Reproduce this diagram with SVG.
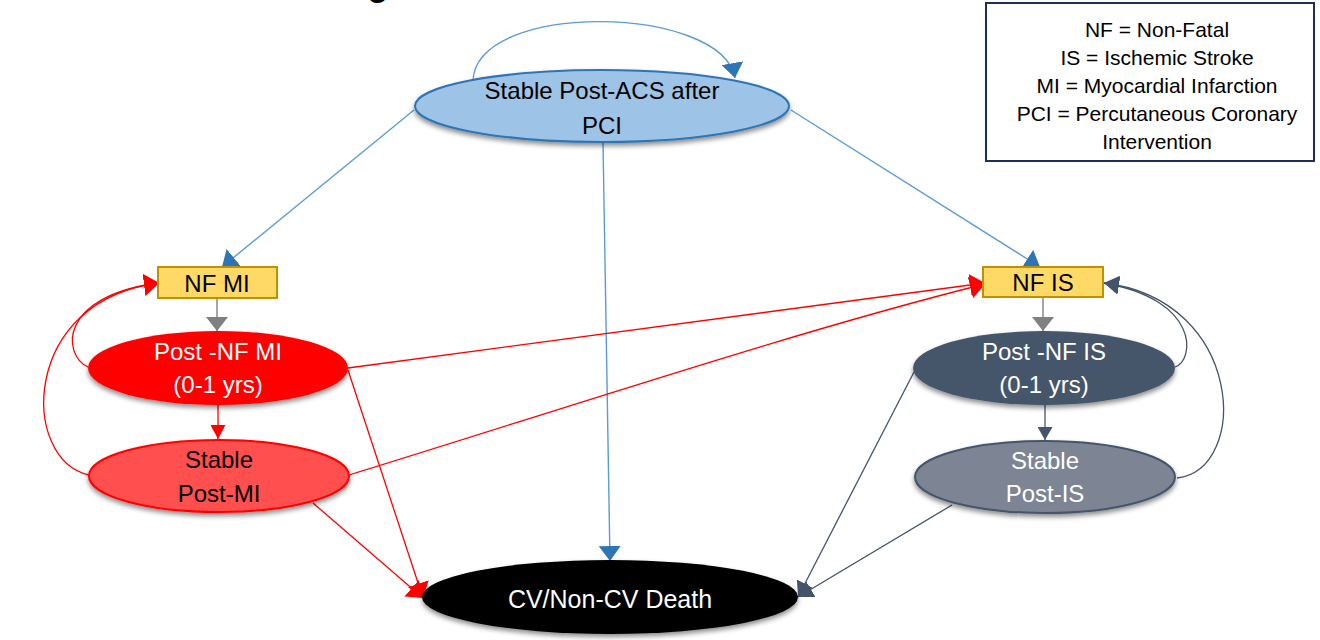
<svg xmlns="http://www.w3.org/2000/svg" width="1320" height="640" viewBox="0 0 1320 640">
<style>
text{font-family:"Liberation Sans",Arial,sans-serif;text-anchor:middle}
.t24{font-size:24px}
.leg{font-size:21px;fill:#000}
.w{fill:#fff}
.k{fill:#000}
.bl{stroke:#5B9BD5;stroke-width:1.4;fill:none}
.rd{stroke:#FF0000;stroke-width:1.3;fill:none}
.dk{stroke:#44546A;stroke-width:1.3;fill:none}
.gr{stroke:#808080;stroke-width:1.4;fill:none}
.box{fill:#FFD966;stroke:#BF9000;stroke-width:2}
</style>
<defs>
<filter id="sh" x="-10%" y="-20%" width="120%" height="150%">
<feDropShadow dx="0" dy="3" stdDeviation="2.5" flood-color="#000" flood-opacity="0.45"/>
</filter>
<marker id="aBlue" markerUnits="userSpaceOnUse" viewBox="0 0 15 22" refX="15" refY="11" markerWidth="15" markerHeight="22" orient="auto"><path d="M0,0 L15,11 L0,22 z" fill="#2E75B6"/></marker>
<marker id="aGray" markerUnits="userSpaceOnUse" viewBox="0 0 14 22" refX="14" refY="11" markerWidth="14" markerHeight="22" orient="auto"><path d="M0,0 L14,11 L0,22 z" fill="#808080"/></marker>
<marker id="aRed" markerUnits="userSpaceOnUse" viewBox="0 0 15 22" refX="15" refY="11" markerWidth="15" markerHeight="22" orient="auto"><path d="M0,0 L15,11 L0,22 z" fill="#FF0000"/></marker>
<marker id="aRedS" markerUnits="userSpaceOnUse" viewBox="0 0 14 15" refX="14" refY="7.5" markerWidth="14" markerHeight="15" orient="auto"><path d="M0,0 L14,7.5 L0,15 z" fill="#FF0000"/></marker>
<marker id="aDk" markerUnits="userSpaceOnUse" viewBox="0 0 15 18" refX="15" refY="9" markerWidth="15" markerHeight="18" orient="auto"><path d="M0,0 L15,9 L0,18 z" fill="#44546A"/></marker>
<marker id="aDkS" markerUnits="userSpaceOnUse" viewBox="0 0 13 15" refX="13" refY="7.5" markerWidth="13" markerHeight="15" orient="auto"><path d="M0,0 L13,7.5 L0,15 z" fill="#44546A"/></marker>
</defs>
<rect width="1320" height="640" fill="#fff"/>
<text x="378" y="-4" style="font-size:34px;font-weight:bold" class="k">g</text>

<g id="connectors">
<path class="bl" d="M473,80 C478,0 722,5 735,78" marker-end="url(#aBlue)"/>
<path class="bl" d="M414,110 L222,267" marker-end="url(#aBlue)"/>
<path class="bl" d="M791,110 L1040,267" marker-end="url(#aBlue)"/>
<path class="bl" d="M603,142 L610,561" marker-end="url(#aBlue)"/>
<path class="gr" d="M217,298 L217,331" marker-end="url(#aGray)"/>
<path class="gr" d="M1043,297 L1043,331" marker-end="url(#aGray)"/>
<path class="rd" d="M218,405 L218,439" marker-end="url(#aRedS)"/>
<path class="dk" d="M1045,405 L1045,440" marker-end="url(#aDkS)"/>
<path class="rd" d="M88,367 C62,355 58,296 159,283" marker-end="url(#aRed)"/>
<path class="rd" d="M89,475 C20,460 20,300 159,283" marker-end="url(#aRed)"/>
<path class="rd" d="M348,368 L985,283" marker-end="url(#aRed)"/>
<path class="rd" d="M349,475 C560,410 800,330 985,284" marker-end="url(#aRed)"/>
<path class="rd" d="M348,370 L423,598" marker-end="url(#aRed)"/>
<path class="rd" d="M313,503 L423,598" marker-end="url(#aRed)"/>
<path class="dk" d="M1175,367 C1195,360 1200,300 1104,283" marker-end="url(#aDk)"/>
<path class="dk" d="M1177,478 C1250,470 1245,300 1104,283" marker-end="url(#aDk)"/>
<path class="dk" d="M914,372 L798,597" marker-end="url(#aDk)"/>
<path class="dk" d="M952,505 L798,597" marker-end="url(#aDk)"/>
</g>

<g id="node-top">
<ellipse cx="602" cy="106" rx="187" ry="36" fill="#9DC3E6" stroke="#2E75B6" stroke-width="2" filter="url(#sh)"/>
<text x="602" y="99" class="t24 k">Stable Post-ACS after</text>
<text x="602" y="134" class="t24 k">PCI</text>
</g>

<g id="node-nfmi">
<rect x="158" y="267" width="119" height="31" class="box"/>
<text x="217" y="292" class="t24 k">NF MI</text>
</g>

<g id="node-postnfmi">
<ellipse cx="218" cy="368" rx="130" ry="37" fill="#FF0000" filter="url(#sh)"/>
<text x="218" y="360" class="t24 w">Post -NF MI</text>
<text x="218" y="393" class="t24 w">(0-1 yrs)</text>
</g>

<g id="node-stablemi">
<ellipse cx="219" cy="476" rx="130" ry="36" fill="#FF5050" stroke="#FF0000" stroke-width="2" filter="url(#sh)"/>
<text x="219" y="468" class="t24 k">Stable</text>
<text x="219" y="502" class="t24 k">Post-MI</text>
</g>

<g id="node-nfis">
<rect x="983" y="267" width="120" height="30" class="box"/>
<text x="1043" y="291" class="t24 k">NF IS</text>
</g>

<g id="node-postnfis">
<ellipse cx="1044" cy="368" rx="131" ry="37" fill="#44546A" filter="url(#sh)"/>
<text x="1044" y="360" class="t24 w">Post -NF IS</text>
<text x="1044" y="393" class="t24 w">(0-1 yrs)</text>
</g>

<g id="node-stableis">
<ellipse cx="1045" cy="477" rx="130" ry="36" fill="#7D8594" stroke="#44546A" stroke-width="2" filter="url(#sh)"/>
<text x="1045" y="469" class="t24 w">Stable</text>
<text x="1045" y="502" class="t24 w">Post-IS</text>
</g>

<g id="node-death">
<ellipse cx="610" cy="597" rx="188" ry="37" fill="#000" filter="url(#sh)"/>
<text x="610" y="608" class="w" style="font-size:25px">CV/Non-CV Death</text>
</g>

<g id="legend">
<rect x="986" y="3" width="328" height="158" fill="#fff" stroke="#1F2D5A" stroke-width="2"/>
<text x="1157" y="37" class="leg">NF = Non-Fatal</text>
<text x="1157" y="65" class="leg">IS = Ischemic Stroke</text>
<text x="1157" y="93" class="leg">MI = Myocardial Infarction</text>
<text x="1157" y="121" class="leg">PCI = Percutaneous Coronary</text>
<text x="1157" y="149" class="leg">Intervention</text>
</g>
</svg>
